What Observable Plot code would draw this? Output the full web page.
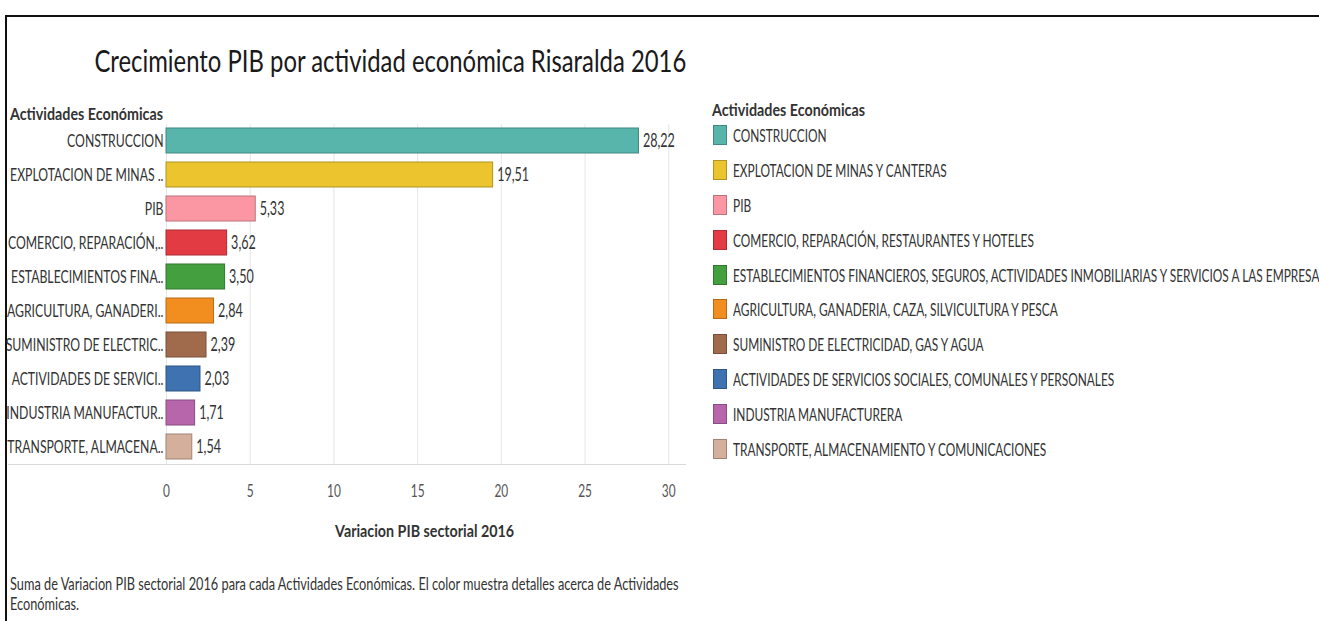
<!DOCTYPE html>
<html><head><meta charset="utf-8">
<script src="https://cdn.jsdelivr.net/npm/d3@7"></script>
<script src="https://cdn.jsdelivr.net/npm/@observablehq/plot@0.6"></script>
<style>
html,body{margin:0;padding:0;background:#fff;}
#root{position:relative;width:1319px;height:621px;overflow:hidden;font-family:Lato,"Noto Sans",sans-serif;color:#333;}
#frame{position:absolute;left:5px;top:15px;width:1400px;height:700px;border-top:2px solid #111;border-left:2px solid #111;box-sizing:border-box;}
#chart{position:absolute;left:0;top:0;}
.t{position:absolute;white-space:nowrap;}
.sx{display:inline-block;}
.sw{display:inline-block;width:14px;height:20px;box-sizing:border-box;border:1px solid;vertical-align:middle;margin-right:6px;}
</style></head><body><div id="root"><div id="frame"></div><div id="chart"></div></div>
<script>
const categories = [
  "CONSTRUCCION",
  "EXPLOTACION DE MINAS Y CANTERAS",
  "PIB",
  "COMERCIO, REPARACIÓN, RESTAURANTES Y HOTELES",
  "ESTABLECIMIENTOS FINANCIEROS, SEGUROS, ACTIVIDADES INMOBILIARIAS Y SERVICIOS A LAS EMPRESAS",
  "AGRICULTURA, GANADERIA, CAZA, SILVICULTURA Y PESCA",
  "SUMINISTRO DE ELECTRICIDAD, GAS Y AGUA",
  "ACTIVIDADES DE SERVICIOS SOCIALES, COMUNALES Y PERSONALES",
  "INDUSTRIA MANUFACTURERA",
  "TRANSPORTE, ALMACENAMIENTO Y COMUNICACIONES"
];
const shortLabels = [
  "CONSTRUCCION",
  "EXPLOTACION DE MINAS ..",
  "PIB",
  "COMERCIO, REPARACIÓN,..",
  "ESTABLECIMIENTOS FINA..",
  "AGRICULTURA, GANADERI..",
  "SUMINISTRO DE ELECTRIC..",
  "ACTIVIDADES DE SERVICI..",
  "INDUSTRIA MANUFACTUR..",
  "TRANSPORTE, ALMACENA.."
];
const values = [28.22, 19.51, 5.33, 3.62, 3.50, 2.84, 2.39, 2.03, 1.71, 1.54];
const xTicks = [0, 5, 10, 15, 20, 25, 30];
const colors = ["#57b5ac", "#ecc42e", "#fb97a2", "#e33b44", "#44a03e", "#f28e1f", "#a06b4c", "#3f72b0", "#b766ac", "#d4b09c"];
const titleText = "Crecimiento PIB por actividad económica Risaralda 2016";
const headerText = "Actividades Económicas";
const axisTitle = "Variacion PIB sectorial 2016";
const captionLines = ["Suma de Variacion PIB sectorial 2016 para cada Actividades Económicas.  El color muestra detalles acerca de Actividades", "Económicas."];

const FONT = "Lato, 'Noto Sans', sans-serif";
const K_ROW = 0.68, K_LEG = 0.66, K_NUM = 0.66, K_BOLD = 0.84, K_TEXT = 0.75, K_TITLE = 0.77;

const data = categories.map((c, i) => ({
  cat: c, value: values[i], fill: colors[i],
  stroke: d3.color(colors[i]).darker(0.8).formatHex()
}));
const shortOf = new Map(categories.map((c, i) => [c, shortLabels[i]]));
const fmt = d3.formatLocale({decimal: ",", thousands: ".", grouping: [3], currency: ["$", ""]}).format(".2f");

const chart = Plot.plot({
  width: 700, height: 500,
  marginLeft: 166, marginRight: 15, marginTop: 124, marginBottom: 36,
  style: {fontFamily: FONT, fontSize: "18px", color: "#333", background: "transparent", overflow: "visible"},
  x: {domain: [0, 31], ticks: xTicks, label: null},
  y: {domain: categories, paddingInner: 0.26, paddingOuter: 0.13, label: null},
  color: {type: "identity"},
  marks: [
    Plot.gridX(xTicks, {stroke: "#e6e6e6", strokeOpacity: 1}),
    Plot.frame({anchor: "bottom", stroke: "#d9d9d9", strokeOpacity: 1, insetLeft: -158}),
    Plot.barX(data, {y: "cat", x: "value", fill: "fill", stroke: "stroke", strokeWidth: 1}),
    Plot.text(data, {y: "cat", x: "value", text: d => fmt(d.value), textAnchor: "start", dx: 4, fill: "#333", fontSize: 19}),
    Plot.axisX(xTicks, {tickSize: 0, tickPadding: 20, label: null, fill: "#555", fontSize: 18}),
    Plot.axisY({tickSize: 0, tickPadding: 3, tickFormat: d => shortOf.get(d), label: null, fill: "#333", fontSize: 18})
  ]
});
document.getElementById("chart").appendChild(chart);
// condense SVG texts horizontally, keeping their anchors
chart.querySelectorAll("text").forEach(t => {
  const w = t.getComputedTextLength();
  const isNum = /^[0-9,.\s]+$/.test(t.textContent);
  if (w > 0) {
    t.setAttribute("textLength", w * (isNum ? K_NUM : K_ROW));
    t.setAttribute("lengthAdjust", "spacingAndGlyphs");
  }
});

const root = document.getElementById("root");
function addText(str, o) {
  const d = document.createElement("div");
  d.className = "t";
  d.style.fontSize = o.size + "px";
  d.style.lineHeight = o.size + "px";
  d.style.top = (o.cy - o.size / 2) + "px";
  d.style.fontWeight = o.weight || 400;
  d.style.color = o.color || "#333";
  const s = document.createElement("span");
  s.className = "sx";
  s.textContent = str;
  d.appendChild(s);
  root.appendChild(d);
  if (o.cx != null) {
    d.style.left = "0px"; d.style.width = (2 * o.cx) + "px"; d.style.textAlign = "center";
    s.style.transformOrigin = "50% 50%";
  } else {
    d.style.left = o.left + "px";
    s.style.transformOrigin = "0 50%";
  }
  s.style.transform = `scaleX(${o.k})`;
  return d;
}
addText(titleText, {cx: 390, cy: 60, size: 31, color: "#1a1a1a", k: K_TITLE});
addText(headerText, {left: 10, cy: 113, size: 17, weight: 700, color: "#333", k: K_BOLD});
addText(axisTitle, {cx: 425, cy: 530, size: 17, weight: 700, color: "#333", k: K_BOLD});
captionLines.forEach((l, i) => addText(l, {left: 10, cy: 583 + i * 20, size: 17, color: "#333", k: K_TEXT}));

// Legend
addText(headerText, {left: 712, cy: 109, size: 17, weight: 700, color: "#333", k: K_BOLD});
categories.forEach((c, i) => {
  const d = document.createElement("div");
  d.className = "t";
  d.style.left = "713px";
  d.style.top = (133 + i * 34.8 - 10) + "px";
  d.style.height = "20px";
  d.style.lineHeight = "20px";
  d.style.fontSize = "18px";
  const sw = document.createElement("span");
  sw.className = "sw";
  sw.style.background = colors[i];
  sw.style.borderColor = d3.color(colors[i]).darker(0.8).formatHex();
  const s = document.createElement("span");
  s.className = "sx";
  s.textContent = c;
  s.style.transform = `scaleX(${K_LEG})`;
  s.style.transformOrigin = "0 50%";
  s.style.verticalAlign = "middle";
  d.appendChild(sw); d.appendChild(s);
  root.appendChild(d);
});
</script></body></html>
